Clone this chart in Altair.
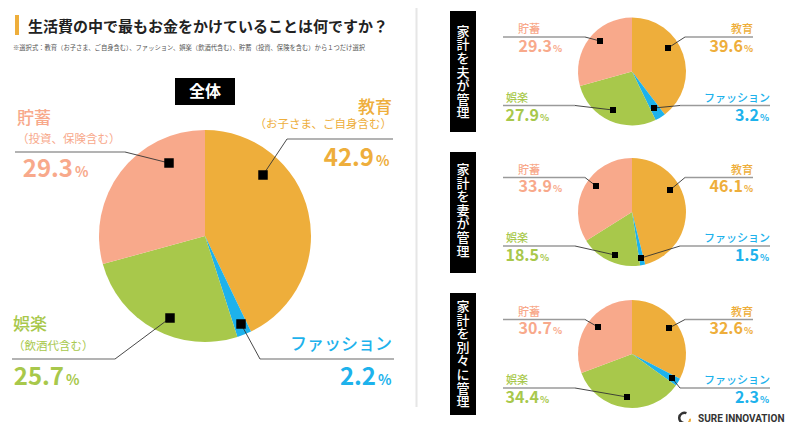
import math

import altair as alt
import pandas as pd

# ---- data ----
categories = ["教育", "ファッション", "娯楽", "貯蓄"]
category_notes = ["（お子さま、ご自身含む）", "", "（飲酒代含む）", "（投資、保険含む）"]
share_all = [42.9, 2.2, 25.7, 29.3]
share_husband = [39.6, 3.2, 27.9, 29.3]
share_wife = [46.1, 1.5, 18.5, 33.9]
share_separate = [32.6, 2.3, 34.4, 30.7]
panel_names = ["家計を夫が管理", "家計を妻が管理", "家計を別々に管理"]
title_text = "生活費の中で最もお金をかけていることは何ですか？"
note_text = "※選択式：教育（お子さま、ご自身含む）、ファッション、娯楽（飲酒代含む）、貯蓄（投資、保険を含む）から１つだけ選択"
badge_text = "全体"
brand_text = "SURE INNOVATION"

# ---- styles ----
colors = ["#EEAE3B", "#1DB2EC", "#A8C84B", "#F8A98B"]
FONT = "Noto Sans CJK JP"

# ---- layout (page pixels) ----
W, H = 784, 414
MAIN_CENTER = (205, 236)
PANEL_CENTERS = [(632, 71.5), (632, 212), (632, 354)]
PANEL_FIRST_CHAR = [31.7, 170, 307]
PANEL_STEP = 13.6

# label x, label y, align, note y, number right x, value y, square, leader (x1, x2, y)
main_spots = {
    "教育": (392, 108, "right", 125, 374, 159, (263, 175), (287, 393, 139)),
    "ファッション": (392, 345, "right", 0, 376, 378, (241, 324), (260, 394, 359)),
    "娯楽": (13, 325, "left", 347, 64, 378, (170, 318), (12, 115, 359)),
    "貯蓄": (17, 119, "left", 140, 73, 170, (169, 163), (15, 125, 152)),
}
# label x, label dy, align, number right x, value dy, leader (x1, x2, dy)
small_spots = {
    "教育": (753, -41.5, "right", 743, -25, (685, 753, -34.5)),
    "ファッション": (770, 27, "right", 759, 44, (680, 770, 34)),
    "娯楽": (506, 27, "left", 539, 44, (503, 575, 34)),
    "貯蓄": (518, -41.5, "left", 552, -25, (503, 585, -34.5)),
}
small_squares = [
    {"教育": (668, 48), "ファッション": (654, 108), "娯楽": (613, 110), "貯蓄": (600, 41)},
    {"教育": (670, 190), "ファッション": (641, 258), "娯楽": (615, 255), "貯蓄": (596, 186)},
    {"教育": (669, 328), "ファッション": (672, 378), "娯楽": (627, 397), "貯蓄": (598, 327)},
]

xs = alt.Scale(domain=[8, 8 + W], nice=False, zero=False)
ys = alt.Scale(domain=[8, 8 + H], nice=False, zero=False, reverse=True)
ts = alt.Scale(domain=[0, 100], range=[0, 2 * math.pi])
col = alt.Scale(domain=categories, range=colors)


def X(f):
    return alt.X(f"{f}:Q", scale=xs, axis=None)


def Y(f):
    return alt.Y(f"{f}:Q", scale=ys, axis=None)


def pie_frame(shares, center):
    s = pd.Series(shares, dtype=float)
    end = s.cumsum() / s.sum() * 100
    return pd.DataFrame({
        "category": categories,
        "start": end - s / s.sum() * 100,
        "end": end,
        "cx": center[0],
        "cy": center[1],
    })


def arcs(df, r):
    return alt.Chart(df).mark_arc(outerRadius=r).encode(
        x=X("cx"), y=Y("cy"),
        theta=alt.Theta("start:Q", scale=ts),
        theta2=alt.Theta2("end"),
        color=alt.Color("category:N", scale=col, legend=None),
    )


def text_layer(df, xf, yf, align, size, field=None, weight="normal", color=None, **kw):
    kw.update(align=align, baseline="middle", font=FONT, fontSize=size, fontWeight=weight)
    enc = dict(x=X(xf), y=Y(yf))
    if field:
        enc["text"] = alt.Text(f"{field}:N")
    if color:
        kw["color"] = color
    else:
        enc["color"] = alt.Color("category:N", scale=col, legend=None)
    return alt.Chart(df).mark_text(**kw).encode(**enc)


# annotation table
rows = []
for i, cat in enumerate(categories):
    lx, ly, side, ny, vx, vy, (sx, sy), (h1, h2, hy) = main_spots[cat]
    rows.append(dict(kind="main", category=cat, note=category_notes[i],
                     value=f"{share_all[i]:.1f}", side=side, lx=lx, ly=ly, ny=ny,
                     vx=vx, vy=vy, px=vx + 2, sx=sx, sy=sy, h1=h1, h2=h2, hy=hy,
                     dx=h1 if side == "right" else h2))
for p, shares in enumerate([share_husband, share_wife, share_separate]):
    cx, cy = PANEL_CENTERS[p]
    for i, cat in enumerate(categories):
        lx, ldy, side, vx, vdy, (h1, h2, hdy) = small_spots[cat]
        sx, sy = small_squares[p][cat]
        rows.append(dict(kind="small", category=cat, note="",
                         value=f"{shares[i]:.1f}", side=side, lx=lx, ly=cy + ldy, ny=0,
                         vx=vx, vy=cy + vdy, px=vx + 1, sx=sx, sy=sy, h1=h1, h2=h2,
                         hy=cy + hdy, dx=h1 if side == "right" else h2))
ann = pd.DataFrame(rows)
ann["label"] = ann["category"]


def sel(kind, side=None):
    d = ann[ann["kind"] == kind]
    if side:
        d = d[d["side"] == side]
    return d


layers = []

# pies
layers.append(arcs(pie_frame(share_all, MAIN_CENTER), 106))
for shares, center in zip([share_husband, share_wife, share_separate], PANEL_CENTERS):
    layers.append(arcs(pie_frame(shares, center), 54))

# leader lines
layers.append(alt.Chart(ann).mark_rule(color="#9a9a9a", strokeWidth=1.3).encode(
    x=X("h1"), x2="h2", y=Y("hy")))
layers.append(alt.Chart(ann).mark_rule(color="#333333", strokeWidth=0.9).encode(
    x=X("dx"), y=Y("hy"), x2="sx", y2="sy"))

# squares
layers.append(alt.Chart(sel("main")).mark_square(size=90, color="#000", opacity=1).encode(
    x=X("sx"), y=Y("sy")))
layers.append(alt.Chart(sel("small")).mark_square(size=36, color="#000", opacity=1).encode(
    x=X("sx"), y=Y("sy")))

# category labels
for side in ["left", "right"]:
    layers.append(text_layer(sel("main", side), "lx", "ly", side, 17, "label", weight=500))
    layers.append(text_layer(sel("small", side), "lx", "ly", side, 11, "label", weight=500))
    notes = sel("main", side)
    notes = notes[notes["note"] != ""]
    layers.append(text_layer(notes, "lx", "ny", side, 11.5, "note"))

# values
layers.append(text_layer(sel("main"), "vx", "vy", "right", 24, "value", weight="bold"))
layers.append(text_layer(sel("main"), "px", "vy", "left", 14, weight="bold", text="%", dy=3))
layers.append(text_layer(sel("small"), "vx", "vy", "right", 16, "value", weight="bold"))
layers.append(text_layer(sel("small"), "px", "vy", "left", 9.5, weight="bold", text="%", dy=2))

# title block
bar = pd.DataFrame({"x1": [15], "x2": [19], "y1": [15], "y2": [35]})
layers.append(alt.Chart(bar).mark_rect(color="#EEAE3B").encode(
    x=X("x1"), x2="x2", y=Y("y1"), y2="y2"))
title_df = pd.DataFrame({"x": [28], "y": [26.5], "t": [title_text]})
layers.append(text_layer(title_df, "x", "y", "left", 15, "t", weight="bold", color="#222222"))
note_df = pd.DataFrame({"x": [13], "y": [48], "t": [note_text]})
layers.append(text_layer(note_df, "x", "y", "left", 6.3, "t", color="#555555"))

# separator
sep = pd.DataFrame({"x": [416.5], "y1": [8], "y2": [407]})
layers.append(alt.Chart(sep).mark_rule(color="#e6e6e6", strokeWidth=2).encode(
    x=X("x"), y=Y("y1"), y2="y2"))

# black badges
boxes = pd.DataFrame({
    "x1": [175, 450, 450, 450], "x2": [235, 476, 476, 476],
    "y1": [78, 11, 152, 293], "y2": [105, 132, 273, 415],
})
layers.append(alt.Chart(boxes).mark_rect(color="#000").encode(
    x=X("x1"), x2="x2", y=Y("y1"), y2="y2"))
badge_df = pd.DataFrame({"x": [205], "y": [91.5], "t": [badge_text]})
layers.append(text_layer(badge_df, "x", "y", "center", 16, "t", weight="bold", color="#ffffff"))

# vertical panel names, one character per row
chars = []
for name, y0 in zip(panel_names, PANEL_FIRST_CHAR):
    for k, ch in enumerate(name):
        chars.append({"x": 463, "y": y0 + k * PANEL_STEP, "t": ch})
layers.append(text_layer(pd.DataFrame(chars), "x", "y", "center", 13, "t", weight=500,
                         color="#ffffff"))

# brand mark
logo_dark = pd.DataFrame({"cx": [684.5], "cy": [418], "start": [48], "end": [106]})
logo_accent = pd.DataFrame({"cx": [686], "cy": [419.5], "start": [22], "end": [58]})
layers.append(alt.Chart(logo_dark).mark_arc(innerRadius=4, outerRadius=6.5, color="#333333").encode(
    x=X("cx"), y=Y("cy"), theta=alt.Theta("start:Q", scale=ts), theta2=alt.Theta2("end")))
layers.append(alt.Chart(logo_accent).mark_arc(innerRadius=3, outerRadius=5, color="#EEAE3B").encode(
    x=X("cx"), y=Y("cy"), theta=alt.Theta("start:Q", scale=ts), theta2=alt.Theta2("end")))
brand_df = pd.DataFrame({"x": [698], "y": [418.5], "t": [brand_text]})
layers.append(alt.Chart(brand_df).mark_text(
    align="left", baseline="middle", font="Roboto", fontSize=10, fontWeight="bold",
    color="#333333").encode(x=X("x"), y=Y("y"), text="t:N"))

chart = alt.layer(*layers).properties(
    width=W,
    height=H,
    padding=0,
    autosize=alt.AutoSizeParams(type="none"),
).configure_view(stroke="transparent")

chart.save("out.html", embed_options={"renderer": "svg", "actions": False})
